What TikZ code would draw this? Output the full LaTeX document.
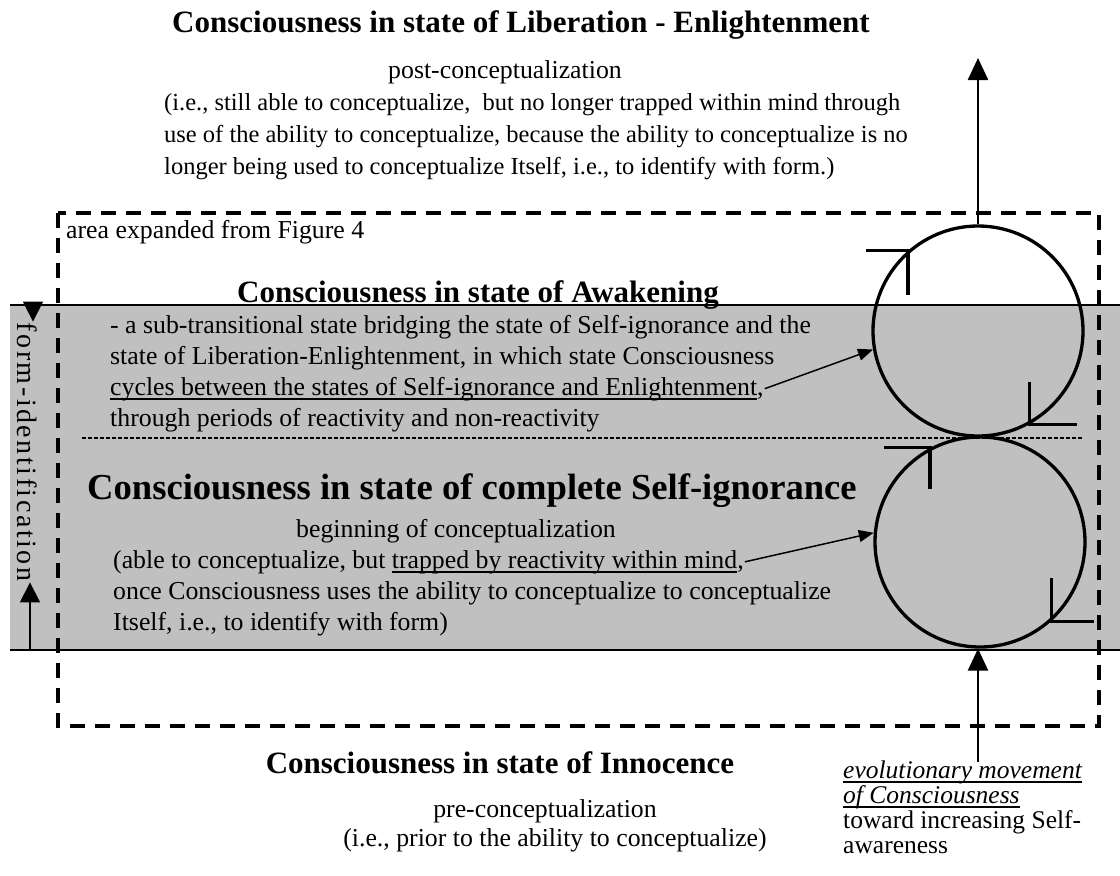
\documentclass[tikz,border=0pt]{standalone}
\usepackage{fontspec}
\setmainfont{Liberation Serif}
\usetikzlibrary{arrows.meta}
\definecolor{bandgray}{RGB}{192,192,192}
\newcommand\ulin[1]{\setbox0\hbox{#1}\rlap{\rule[-5pt]{\wd0}{1.6pt}}\box0}

\begin{document}
\begin{tikzpicture}[x=1pt, y=-1pt, every node/.style={inner sep=1pt},
    bodytext/.style={font=\fontsize{25.8}{31}\selectfont},
    libtext/.style={font=\fontsize{24.5}{31}\selectfont},
    smalltext/.style={font=\fontsize{25.5}{25}\selectfont},
    statetitle/.style={font=\fontsize{31}{36}\selectfont\bfseries},
    bigtitle/.style={font=\fontsize{36.6}{42}\selectfont\bfseries},
    cyclecircle/.style={circle, draw, line width=3.3pt, minimum size=210pt, inner sep=0pt},
    tickline/.style={line width=3.3pt},
    bigarrow/.style={line width=2.5pt, -{Triangle[length=22pt, width=20pt]}},
    pointer/.style={line width=1.5pt, -{Triangle[length=15pt, width=12pt]}},
    fiarrow/.style={line width=1.3pt, -{Triangle[length=20pt, width=20pt]}}]
  \useasboundingbox (0,0) rectangle (1120,876);

  % shaded band and area frame
  \fill[bandgray] (10,305) rectangle (1120,650);
  \draw[line width=1.8pt] (10,305) -- (1120,305) (10,650) -- (1120,650);
  \draw[line width=3.3pt, dash pattern=on 15pt off 10pt] (58,213) rectangle (1099,726);
  \draw[line width=2.5pt, dash pattern=on 3.5pt off 2.5pt] (82,438) -- (1082,438);

  % the two cycles
  \node[cyclecircle] (circU) at (978,331) {};
  \node[cyclecircle] (circL) at (980,542) {};
  \draw[tickline] ([shift={(-42,0)}]circU.131.6) -- (circU.131.6) -- ++(0,44);
  \draw[tickline] ([shift={(0,-42)}]circU.-61.7) -- (circU.-61.7) -- ++(47,0);
  \draw[tickline] ([shift={(-46,0)}]circL.118.7) -- (circL.118.7) -- ++(0,41);
  \draw[tickline] ([shift={(0,-43)}]circL.-48.5) -- (circL.-48.5) -- ++(43,0);

  % Liberation
  \node[statetitle, anchor=base] (tLib) at (521,32) {Consciousness in state of Liberation - Enlightenment};
  \node[bodytext, anchor=base] (postC) at (505,78) {post-conceptualization};
  \foreach \ln [count=\i] in {{(i.e., still able to conceptualize, \ but no longer trapped within mind through},
      {use of the ability to conceptualize, because the ability to conceptualize is no},
      {longer being used to conceptualize Itself, i.e., to identify with form.)}}
    \node[libtext, anchor=base west] (lib\i) at (163,{78+32*\i}) {\ln};
  \node[bodytext, anchor=base west] (areaNote) at (65,238) {area expanded from Figure 4};

  % Awakening
  \node[statetitle, anchor=base] (tAwk) at (478,302) {Consciousness in state of Awakening};
  \foreach \ln [count=\i] in {{- a sub-transitional state bridging the state of Self-ignorance and the},
      {state of Liberation-Enlightenment, in which state Consciousness},
      {\ulin{cycles between the states of Self-ignorance and Enlightenment},},
      {through periods of reactivity and non-reactivity}}
    \node[bodytext, anchor=base west] (awk\i) at (109,{302+31*\i}) {\ln};

  % Self-ignorance
  \node[bigtitle, anchor=base west] (tIgn) at (86,499) {Consciousness in state of complete Self-ignorance};
  \node[bodytext, anchor=base] (begC) at (456,537) {beginning of conceptualization};
  \foreach \ln [count=\i] in {{(able to conceptualize, but \ulin{trapped by reactivity within mind},},
      {once Consciousness uses the ability to conceptualize to conceptualize},
      {Itself, i.e., to identify with form)}}
    \node[bodytext, anchor=base west] (ign\i) at (112,{537+31*\i}) {\ln};

  % Innocence
  \node[statetitle, anchor=base] (tInn) at (500,773) {Consciousness in state of Innocence};
  \node[bodytext, anchor=base] (preC) at (545,817) {pre-conceptualization};
  \node[bodytext, anchor=base] (priorC) at (555,846) {(i.e., prior to the ability to conceptualize)};

  % evolutionary movement
  \foreach \ln [count=\i] in {{\ulin{\itshape evolutionary movement}}, {\ulin{\itshape of Consciousness}},
      {toward increasing Self-}, {awareness}}
    \node[smalltext, anchor=base west] (evo\i) at (842,{753+25*\i}) {\ln};

  % form-identification
  \node[font=\fontsize{28}{30}\selectfont, rotate=-90] (formId) at (27,452) {\addfontfeature{LetterSpace=9}form-identification};
  \coordinate (fiTop) at (33,305);
  \coordinate (fiBot) at (30,650);
  \draw[fiarrow] (fiTop) -- (fiTop |- formId.west);
  \draw[fiarrow] (fiBot) -- (fiBot |- formId.east);

  % connectors
  \coordinate (libTip) at (976,58);
  \coordinate (evoTail) at (978,762);
  \draw[bigarrow] (circU.north) -- (circU.north |- libTip);
  \draw[bigarrow] (evoTail) -- (evoTail |- circL.south);
  \draw[pointer] (awk3.east) -- (circU.190);
  \draw[pointer] (ign1.east) -- (circL.175);
\end{tikzpicture}
\end{document}
